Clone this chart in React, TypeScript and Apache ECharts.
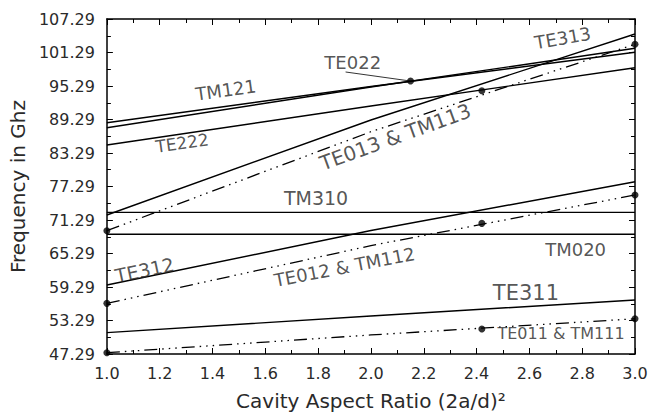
import React, { useEffect, useRef } from "react";
import * as echarts from "echarts";

// ---- data (values in GHz, x = (2a/d)^2) ----
const X_POINTS = [1.0, 2.0, 3.0];
const Y_BASE = 47.29;
const Y_TICK_STEP = 6;

const TM121 = [88.72, 95.2, 101.33];
const TE022 = [87.82, 95.1, 102.04];
const TE222 = [84.72, 91.7, 98.57];
const TE313 = [72.18, 89.2, 104.6];
const TE013_TM113 = [69.38, 87.1, 102.76];
const TM310 = [72.66, 72.66, 72.66];
const TM020 = [68.75, 68.75, 68.75];
const TE312 = [59.65, 69.4, 78.15];
const TE012_TM112 = [56.36, 66.7, 75.77];
const TE311 = [51.11, 54.1, 56.96];
const TE011_TM111 = [47.52, 50.7, 53.6];

// measured points
const MEAS_X = [1.0, 1.0, 1.0, 2.15, 2.42, 2.42, 2.42, 3.0, 3.0, 3.0];
const MEAS_Y = [69.38, 56.36, 47.52, 96.2, 94.45, 70.69, 51.76, 102.76, 75.77, 53.6];

// curve labels (anchor in data coordinates)
const LABEL_TEXT = [
  "TM121", "TE222", "TE022", "TE313", "TE013 & TM113", "TM310",
  "TM020", "TE312", "TE012 & TM112", "TE311", "TE011 & TM111",
];
const LABEL_X = [1.45, 1.285, 1.931, 2.726, 2.092, 1.792, 2.775, 1.143, 1.9, 2.587, 2.72];
const LABEL_Y = [94.57, 85.08, 99.41, 103.89, 86.15, 75.23, 66.09, 62.33, 62.87, 58.21, 50.96];

// TE022 leader line
const LEADER_X = [1.904, 2.148];
const LEADER_Y = [97.8, 96.19];

const LABEL_ROT = [8, 8, 0, 10, 20, 0, 0, 12, 11, 0, 0];
const LABEL_SIZE = [18, 17, 18, 18, 20, 19, 18, 19, 18, 21, 16];

const FONT = "'DejaVu Sans', sans-serif";
const TEXT_COLOR = "#2a2a2a";
const DASH_DOT3 = [13, 5, 1.5, 5, 1.5, 5, 1.5, 5];

function pts(ys: number[]) {
  return X_POINTS.map((x, i) => [x, ys[i] - Y_BASE]);
}

export default function App() {
  const ref = useRef<HTMLDivElement>(null);
  useEffect(() => {
    document.body.style.margin = "0";
    if (!ref.current) return;
    const chart = echarts.init(ref.current, undefined, { renderer: "svg" });

    const solid = (name: string, ys: number[]) => ({
      name,
      type: "line",
      data: pts(ys),
      symbol: "none",
      lineStyle: { color: "#000", width: 1.4, type: "solid" },
      silent: true,
      z: 2,
    });
    const dashed = (name: string, ys: number[]) => ({
      name,
      type: "line",
      data: pts(ys),
      symbol: "none",
      lineStyle: { color: "#000", width: 1.3, type: DASH_DOT3 },
      silent: true,
      z: 2,
    });

    const axisLine = { show: true, onZero: false, lineStyle: { color: "#000", width: 1.5 } };
    const tickStyle = { color: "#000", width: 1 };

    const option: any = {
      animation: false,
      backgroundColor: "#fff",
      grid: { left: 102, right: 16, top: 19, bottom: 63 },
      xAxis: [
        {
          type: "value",
          min: 1,
          max: 3,
          interval: 0.2,
          position: "bottom",
          name: "Cavity Aspect Ratio (2a/d)²",
          nameLocation: "middle",
          nameGap: 37,
          nameTextStyle: { fontFamily: FONT, fontSize: 20, color: TEXT_COLOR },
          axisLine,
          axisTick: { show: true, inside: true, length: 6, lineStyle: tickStyle },
          minorTick: { show: true, splitNumber: 2, length: 4, lineStyle: tickStyle },
          splitLine: { show: false },
          axisLabel: {
            fontFamily: FONT,
            fontSize: 16,
            color: TEXT_COLOR,
            margin: 11,
            formatter: (v: number) => v.toFixed(1),
          },
        },
        {
          type: "value",
          min: 1,
          max: 3,
          interval: 0.2,
          position: "top",
          axisLine,
          axisTick: { show: true, inside: true, length: 6, lineStyle: tickStyle },
          minorTick: { show: true, splitNumber: 2, length: 4, lineStyle: tickStyle },
          splitLine: { show: false },
          axisLabel: { show: false },
        },
      ],
      yAxis: [
        {
          type: "value",
          min: 0,
          max: 60,
          interval: Y_TICK_STEP,
          position: "left",
          name: "Frequency in Ghz",
          nameLocation: "middle",
          nameGap: 68,
          nameTextStyle: { fontFamily: FONT, fontSize: 20, color: TEXT_COLOR },
          axisLine,
          axisTick: { show: true, inside: true, length: 6, lineStyle: tickStyle },
          minorTick: { show: true, splitNumber: 2, length: 4, lineStyle: tickStyle },
          splitLine: { show: false },
          axisLabel: {
            fontFamily: FONT,
            fontSize: 16,
            color: TEXT_COLOR,
            margin: 12,
            formatter: (v: number) => (v + Y_BASE).toFixed(2),
          },
        },
        {
          type: "value",
          min: 0,
          max: 60,
          interval: Y_TICK_STEP,
          position: "right",
          axisLine,
          axisTick: { show: true, inside: true, length: 6, lineStyle: tickStyle },
          minorTick: { show: true, splitNumber: 2, length: 4, lineStyle: tickStyle },
          splitLine: { show: false },
          axisLabel: { show: false },
        },
      ],
      series: [
        solid("TM121", TM121),
        solid("TE022", TE022),
        solid("TE222", TE222),
        solid("TE313", TE313),
        dashed("TE013 & TM113", TE013_TM113),
        solid("TM310", TM310),
        solid("TM020", TM020),
        solid("TE312", TE312),
        dashed("TE012 & TM112", TE012_TM112),
        solid("TE311", TE311),
        dashed("TE011 & TM111", TE011_TM111),
        {
          name: "leader",
          type: "line",
          data: LEADER_X.map((x, i) => [x, LEADER_Y[i] - Y_BASE]),
          symbol: "none",
          lineStyle: { color: "#000", width: 0.8 },
          silent: true,
        },
        {
          name: "measured",
          type: "scatter",
          data: MEAS_X.map((x, i) => [x, MEAS_Y[i] - Y_BASE]),
          symbol: "circle",
          symbolSize: 7,
          itemStyle: { color: "#000" },
          clip: false,
          z: 4,
        },
        {
          name: "labels",
          type: "scatter",
          symbolSize: 0,
          silent: true,
          z: 5,
          data: LABEL_TEXT.map((t, i) => ({
            value: [LABEL_X[i], LABEL_Y[i] - Y_BASE],
            label: {
              show: true,
              formatter: t,
              position: "inside",
              rotate: LABEL_ROT[i],
              fontFamily: FONT,
              fontSize: LABEL_SIZE[i],
              color: TEXT_COLOR,
              align: "center",
              verticalAlign: "middle",
            },
          })),
        },
      ],
    };
    chart.setOption(option);
    return () => chart.dispose();
  }, []);
  return <div ref={ref} style={{ width: 651, height: 417 }} />;
}
